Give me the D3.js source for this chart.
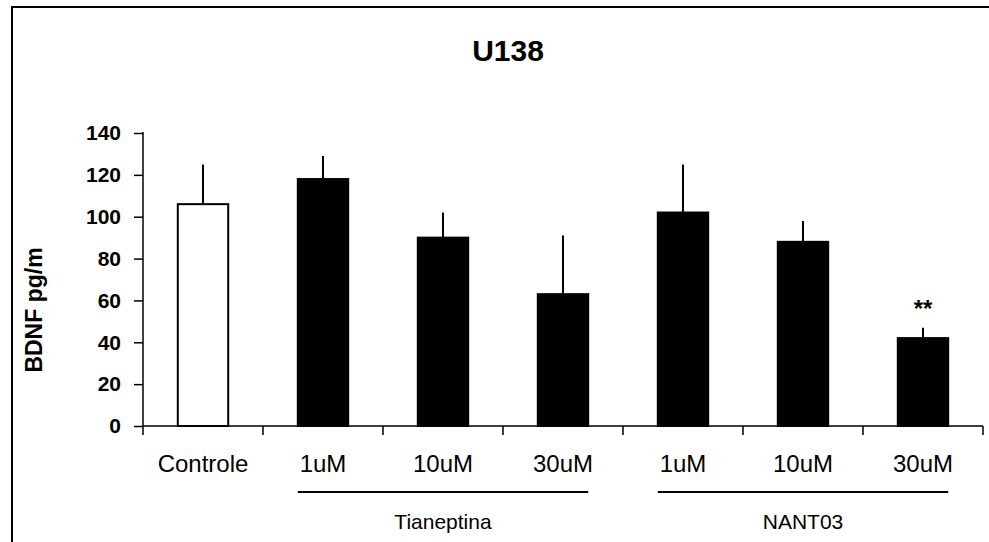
<!DOCTYPE html>
<html>
<head>
<meta charset="utf-8">
<script src="https://cdn.jsdelivr.net/npm/d3@7"></script>
<style>
  body { margin: 0; background: #fff; }
  svg { display: block; font-family: "Liberation Sans", Arial, sans-serif; }
</style>
</head>
<body>
<svg id="chart"></svg>
<script>
// data
const categories = ["Controle", "T1", "T10", "T30", "N1", "N10", "N30"];
const tickLabels = ["Controle", "1uM", "10uM", "30uM", "1uM", "10uM", "30uM"];
const means = [106, 118, 90, 63, 102, 88, 42];
const errors = [19, 11, 12, 28, 23, 10, 5];
const groups = [
  { name: "Tianeptina", from: "T1", to: "T30" },
  { name: "NANT03", from: "N1", to: "N30" }
];
const yTicks = [0, 20, 40, 60, 80, 100, 120, 140];

const W = 989, H = 542;
const svg = d3.select("#chart").attr("width", W).attr("height", H);

// frame (top and left edges visible)
svg.append("path")
   .attr("d", `M12,${H} L12,7 L${W},7`)
   .attr("fill", "none")
   .attr("stroke", "#000")
   .attr("stroke-width", 2);

const plotLeft = 143, plotRight = 983, plotTop = 133, plotBottom = 426;

const x = d3.scaleBand()
            .domain(categories)
            .range([plotLeft, plotRight])
            .paddingInner(0.58)
            .paddingOuter(0.29);
const step = x.step();

const y = d3.scaleLinear()
            .domain([0, 140])
            .range([plotBottom, plotTop]);

// title
svg.append("text")
   .attr("x", 508).attr("y", 61)
   .attr("text-anchor", "middle")
   .attr("font-size", 30)
   .attr("font-weight", "bold")
   .text("U138");

// y axis
const yAxis = d3.axisLeft(y).tickValues(yTicks).tickSize(9).tickPadding(13);
const gy = svg.append("g").attr("transform", `translate(${plotLeft},0)`).call(yAxis);
gy.select(".domain").remove();
gy.selectAll("line").attr("stroke-width", 1.5);
gy.selectAll("text").attr("font-size", 21).attr("font-weight", "bold").attr("fill", "#000")
  .attr("font-family", "Liberation Sans, Arial, sans-serif");
gy.append("line")
  .attr("x1", 0).attr("x2", 0)
  .attr("y1", plotTop - 1).attr("y2", plotBottom + 9)
  .attr("stroke", "#000").attr("stroke-width", 1.5);

// y label
svg.append("text")
   .attr("transform", `translate(42,310) rotate(-90)`)
   .attr("text-anchor", "middle")
   .attr("font-size", 23)
   .attr("font-weight", "bold")
   .text("BDNF pg/m");

// x axis: baseline with ticks between categories
const boundaries = d3.range(categories.length + 1).map(i => plotLeft + i * step);
svg.append("line")
   .attr("x1", plotLeft).attr("x2", plotRight)
   .attr("y1", y(0)).attr("y2", y(0))
   .attr("stroke", "#000").attr("stroke-width", 1.5);
svg.selectAll(".xtick")
   .data(boundaries.slice(1))
   .enter().append("line")
   .attr("class", "xtick")
   .attr("x1", d => d).attr("x2", d => d)
   .attr("y1", y(0)).attr("y2", y(0) + 9)
   .attr("stroke", "#000").attr("stroke-width", 1.5);

// bars
svg.selectAll(".bar")
   .data(categories)
   .enter().append("rect")
   .attr("class", "bar")
   .attr("x", d => x(d))
   .attr("y", (d, i) => y(means[i]))
   .attr("width", x.bandwidth())
   .attr("height", (d, i) => y(0) - y(means[i]))
   .attr("fill", (d, i) => i === 0 ? "#fff" : "#000")
   .attr("stroke", "#000")
   .attr("stroke-width", 2);

// error bars (upper only, no caps)
svg.selectAll(".err")
   .data(categories)
   .enter().append("line")
   .attr("class", "err")
   .attr("x1", d => x(d) + x.bandwidth() / 2)
   .attr("x2", d => x(d) + x.bandwidth() / 2)
   .attr("y1", (d, i) => y(means[i]))
   .attr("y2", (d, i) => y(means[i] + errors[i]))
   .attr("stroke", "#000")
   .attr("stroke-width", 2);

// significance mark
svg.append("text")
   .attr("x", x("N30") + x.bandwidth() / 2)
   .attr("y", y(means[6] + errors[6]) - 11)
   .attr("text-anchor", "middle")
   .attr("font-size", 24)
   .attr("font-weight", "bold")
   .text("**");

// category labels
svg.selectAll(".xlab")
   .data(categories)
   .enter().append("text")
   .attr("class", "xlab")
   .attr("x", d => x(d) + x.bandwidth() / 2)
   .attr("y", 472)
   .attr("text-anchor", "middle")
   .attr("font-size", 24)
   .text((d, i) => tickLabels[i]);

// group brackets
groups.forEach(g => {
  const x0 = x(g.from), x1 = x(g.to) + x.bandwidth();
  svg.append("line")
     .attr("x1", x0).attr("x2", x1)
     .attr("y1", 492).attr("y2", 492)
     .attr("stroke", "#000").attr("stroke-width", 2);
  svg.append("text")
     .attr("x", (x0 + x1) / 2)
     .attr("y", 529)
     .attr("text-anchor", "middle")
     .attr("font-size", 21)
     .text(g.name);
});
</script>
</body>
</html>
